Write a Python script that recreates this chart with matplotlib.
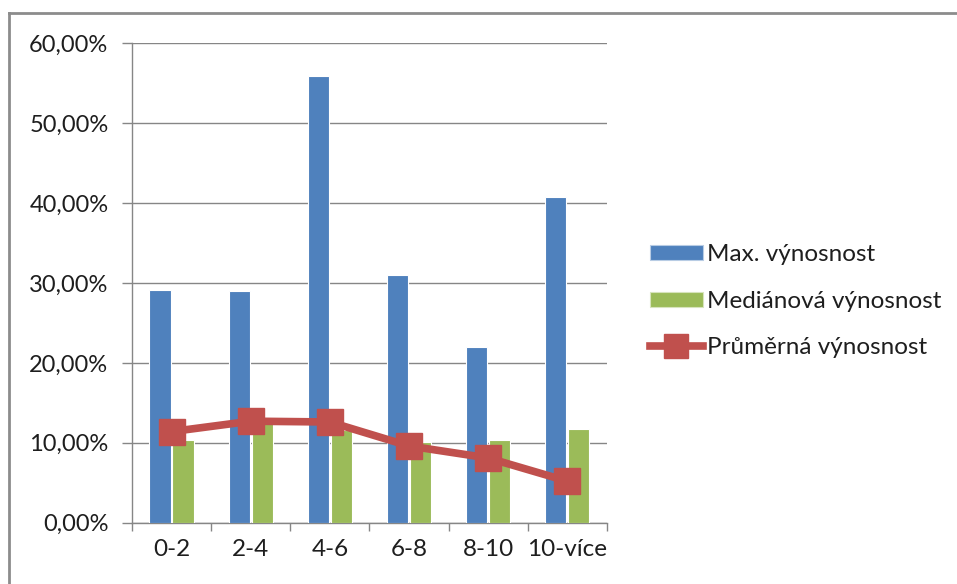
import matplotlib
matplotlib.use("Agg")
from matplotlib import pyplot as plt, patches, lines
from matplotlib.ticker import FuncFormatter
import numpy as np

categories = ['0-2', '2-4', '4-6', '6-8', '8-10', '10-více']
max_yield = [29.1, 29.0, 55.9, 31.0, 22.0, 40.8]
median_yield = [10.4, 12.5, 11.6, 10.1, 10.4, 11.7]
mean_yield = [11.4, 12.7, 12.6, 9.6, 8.1, 5.2]

blue = '#4F81BD'
green = '#9BBB59'
red = '#C0504D'
grid_col = '#868686'
text_col = '#1E1E1E'

plt.rcParams['font.family'] = ['Lato', 'DejaVu Sans']

fig = plt.figure(figsize=(9.57, 5.84), dpi=100)
ax = fig.add_axes([0.138, 0.105, 0.496, 0.821])

x = np.arange(len(categories))
w = 0.27
ax.bar(x - 0.145, max_yield, w, color=blue, edgecolor='white', linewidth=0.8,
       label='Max. výnosnost', zorder=3)
ax.bar(x + 0.145, median_yield, w, color=green, edgecolor='white', linewidth=0.8,
       label='Mediánová výnosnost', zorder=3)
ax.plot(x, mean_yield, color=red, linewidth=5.5, marker='s', markersize=19,
        markerfacecolor=red, markeredgecolor=red, label='Průměrná výnosnost',
        zorder=4)

ax.set_xlim(-0.5, len(categories) - 0.5)
ax.set_ylim(0, 60)
ax.set_yticks(np.arange(0, 61, 10))
ax.yaxis.set_major_formatter(FuncFormatter(lambda v, _: f'{v:.2f}%'.replace('.', ',')))
ax.set_xticks(x)
ax.set_xticklabels(categories)
ax.set_xticks(np.arange(-0.5, len(categories)), minor=True)
ax.tick_params(axis='x', which='major', length=0, pad=12, labelsize=17.5,
               labelcolor=text_col)
ax.tick_params(axis='x', which='minor', length=6, color=grid_col, width=1)
ax.tick_params(axis='y', length=7, color=grid_col, width=1, pad=10,
               labelsize=17, labelcolor=text_col)

ax.grid(axis='y', color=grid_col, linewidth=1, zorder=0)
for side in ['top', 'right']:
    ax.spines[side].set_visible(False)
for side in ['left', 'bottom']:
    ax.spines[side].set_color(grid_col)
    ax.spines[side].set_linewidth(1)

# Legend on the right
handles = [patches.Patch(facecolor=blue, edgecolor='#B8CCE4', linewidth=0.8),
           patches.Patch(facecolor=green, edgecolor='#D7E4BD', linewidth=0.8),
           lines.Line2D([], [], color=red, linewidth=5.5, marker='s',
                        markersize=17, markeredgecolor=red)]
fig.legend(handles, ['Max. výnosnost', 'Mediánová výnosnost', 'Průměrná výnosnost'],
           loc='center left', bbox_to_anchor=(0.656, 0.484), frameon=False,
           fontsize=17.5, handlelength=2.2, handleheight=0.55, handletextpad=0.15,
           labelspacing=1.05, labelcolor=text_col)

# Outer chart frame (top and left edges)
fig.add_artist(lines.Line2D([9 / 957, 1.0], [1 - 13 / 584, 1 - 13 / 584],
                            transform=fig.transFigure, color='#8C8C8C', linewidth=2))
fig.add_artist(lines.Line2D([9 / 957, 9 / 957], [0, 1 - 13 / 584],
                            transform=fig.transFigure, color='#8C8C8C', linewidth=2))

fig.savefig('out.png', dpi=100)
